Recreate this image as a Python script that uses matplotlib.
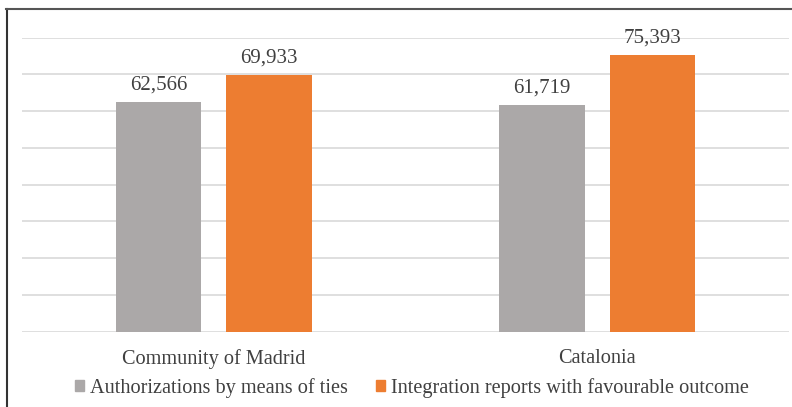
import matplotlib.pyplot as plt
import numpy as np
from matplotlib.lines import Line2D
from matplotlib.patches import Patch

regions = ["Community of Madrid", "Catalonia"]
ties = [62566, 61719]
integration = [69933, 75393]
series_names = ["Authorizations by means of ties",
                "Integration reports with favourable outcome"]
gray = "#ABA8A8"
orange = "#ED7D31"

plt.rcParams['font.family'] = ['Liberation Serif', 'DejaVu Serif']

W, H = 792, 407
fig = plt.figure(figsize=(W / 100, H / 100), dpi=100)
ax = fig.add_axes([22 / W, (H - 331.5) / H, (789 - 22) / W, (331.5 - 37.7) / H])

x = np.arange(len(regions))
w = 0.2225
off = 0.144
b1 = ax.bar(x - off, ties, w, color=gray, zorder=2)
b2 = ax.bar(x + off, integration, w, color=orange, zorder=2)

for bars in (b1, b2):
    for r in bars:
        ax.text(r.get_x() + r.get_width() / 2, r.get_height() + 2000,
                f"{int(r.get_height()):,}", ha="center", va="bottom",
                fontsize=15, color="#404040", clip_on=False)

ax.set_xlim(-0.5, 1.5)
ax.set_ylim(0, 80000)
ax.set_yticks(np.arange(0, 80001, 10000))
ax.yaxis.grid(True, color="#D9D9D9", linewidth=1.2)
ax.set_axisbelow(True)
ax.tick_params(left=False, labelleft=False, bottom=False)
for s in ax.spines.values():
    s.set_visible(False)
ax.set_xticks(x)
ax.set_xticklabels(regions, fontsize=14.6, color="#404040")
ax.tick_params(axis="x", pad=9)

handles = [Patch(color=gray), Patch(color=orange)]
fig.legend(handles, series_names, loc="center", bbox_to_anchor=(412 / W, 1 - 388 / H),
           ncol=2, frameon=False, fontsize=14.6, handlelength=0.45, handleheight=0.45,
           handletextpad=0.3, columnspacing=1.4, labelcolor="#404040")

# outer frame (left and top only visible)
fig.add_artist(Line2D([6.5 / W, 6.5 / W], [0, 1 - 9 / H], color="#333333", lw=1.5))
fig.add_artist(Line2D([6 / W, 1], [1 - 9 / H, 1 - 9 / H], color="#555555", lw=1.5))

fig.savefig("out.png", dpi=100)
